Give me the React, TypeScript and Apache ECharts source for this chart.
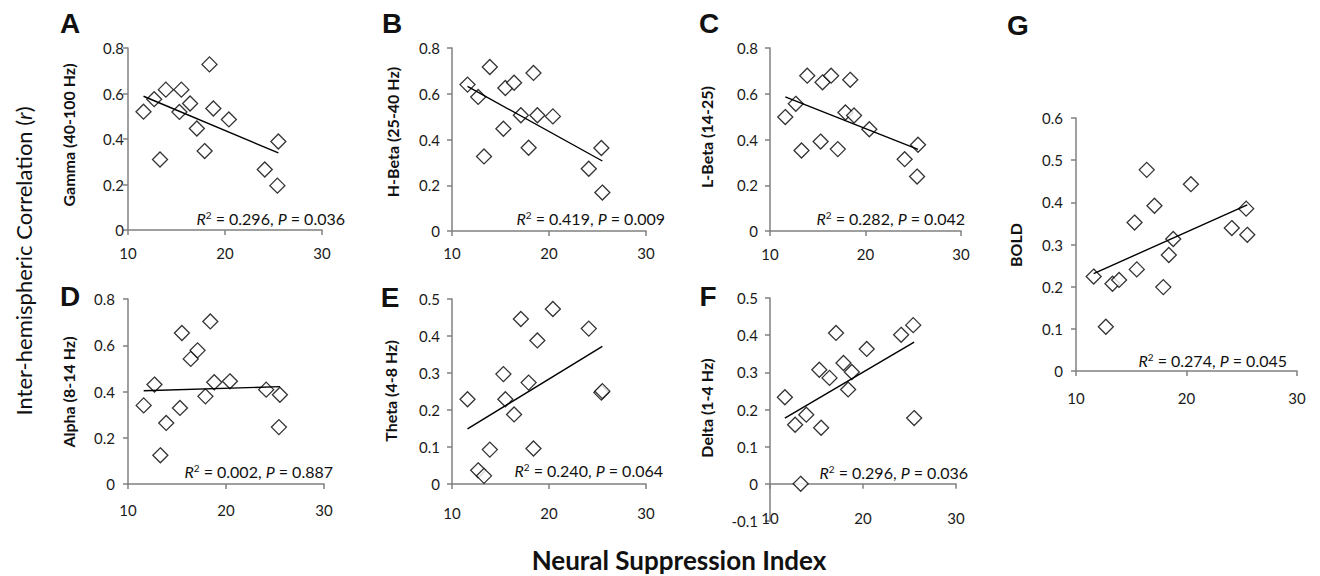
import React, { useEffect, useRef } from "react";
import * as echarts from "echarts";

// Neural suppression index (shared x for all panels)
const suppressionIndex = [11.6, 12.7, 13.3, 13.9, 15.3, 15.5, 16.4, 17.1, 17.9, 18.4, 18.8, 20.4, 24.1, 25.4, 25.5];

// Inter-hemispheric correlation per band
const gamma = [0.52, 0.575, 0.31, 0.617, 0.519, 0.617, 0.556, 0.446, 0.347, 0.728, 0.534, 0.486, 0.266, 0.195, 0.389];
const hBeta = [0.64, 0.586, 0.326, 0.717, 0.447, 0.625, 0.648, 0.506, 0.364, 0.691, 0.506, 0.501, 0.272, 0.363, 0.168];
const lBeta = [0.498, 0.556, 0.352, 0.679, 0.391, 0.65, 0.679, 0.358, 0.518, 0.661, 0.505, 0.445, 0.314, 0.238, 0.377];
const alpha = [0.34, 0.43, 0.124, 0.264, 0.329, 0.653, 0.541, 0.578, 0.379, 0.703, 0.44, 0.444, 0.408, 0.246, 0.386];
const theta = [0.229, 0.037, 0.022, 0.093, 0.297, 0.229, 0.188, 0.446, 0.274, 0.096, 0.388, 0.473, 0.42, 0.247, 0.251];
const delta = [0.233, 0.159, 0.0, 0.186, 0.307, 0.151, 0.285, 0.406, 0.325, 0.254, 0.301, 0.363, 0.401, 0.427, 0.177];
const boldSignal = [0.224, 0.105, 0.207, 0.216, 0.352, 0.241, 0.477, 0.392, 0.199, 0.275, 0.313, 0.443, 0.339, 0.385, 0.323];

// Regression line end points (x from trendX, y)
const trendX = [11.6, 25.5];
const gammaTrend = [0.588, 0.339];
const hBetaTrend = [0.632, 0.306];
const lBetaTrend = [0.586, 0.357];
const alphaTrend = [0.403, 0.421];
const thetaTrend = [0.149, 0.372];
const deltaTrend = [0.177, 0.381];
const boldTrend = [0.231, 0.394];

const panelLetters = ["A", "B", "C", "D", "E", "F", "G"];
const panelNames = ["Gamma (40-100 Hz)", "H-Beta (25-40 Hz)", "L-Beta (14-25)", "Alpha (8-14 Hz)", "Theta (4-8 Hz)", "Delta (1-4 Hz)", "BOLD"];
const rSquared = ["0.296", "0.419", "0.282", "0.002", "0.240", "0.296", "0.274"];
const pValues = ["0.036", "0.009", "0.042", "0.887", "0.064", "0.036", "0.045"];
const xTicks = { min: 10, max: 30, interval: 10 };
const yRanges = [
  { min: 0, max: 0.8, interval: 0.2 },
  { min: 0, max: 0.8, interval: 0.2 },
  { min: 0, max: 0.8, interval: 0.2 },
  { min: 0, max: 0.8, interval: 0.2 },
  { min: 0, max: 0.5, interval: 0.1 },
  { min: -0.1, max: 0.5, interval: 0.1 },
  { min: 0, max: 0.6, interval: 0.1 },
];

const seriesValues = [gamma, hBeta, lBeta, alpha, theta, delta, boldSignal];
const trends = [gammaTrend, hBetaTrend, lBetaTrend, alphaTrend, thetaTrend, deltaTrend, boldTrend];

// Layout (pixels); xo = x-axis offset from grid bottom (F: axis sits on y = 0)
const layout = [
  { grid: { left: 128, top: 48, width: 194, height: 182 }, xm: 15, xo: 0, ym: 4, title: [68, 135], letter: [70, 23], stat: [345, 218] },
  { grid: { left: 452, top: 48, width: 194, height: 183 }, xm: 14, xo: 0, ym: 12, title: [392, 132], letter: [392, 23], stat: [665, 218] },
  { grid: { left: 770, top: 48, width: 191, height: 183 }, xm: 15, xo: 0, ym: 12, title: [706, 137], letter: [709, 23], stat: [965, 218] },
  { grid: { left: 128, top: 299, width: 196, height: 185 }, xm: 18, xo: 0, ym: 13, title: [68, 392], letter: [70, 296], stat: [333, 471] },
  { grid: { left: 452, top: 299, width: 194, height: 185 }, xm: 21, xo: 0, ym: 12, title: [390, 391], letter: [390, 297], stat: [663, 470] },
  { grid: { left: 770, top: 298, width: 186, height: 223 }, xm: 27, xo: -223 / 6, ym: 12, title: [706, 408], letter: [708, 296], stat: [968, 472] },
  { grid: { left: 1076, top: 118, width: 221, height: 253 }, xm: 19, xo: 0, ym: 13, title: [1015, 245], letter: [1018, 25], stat: [1287, 360] },
];

const FONT = "Lato, 'Open Sans', sans-serif";
const AXIS_COLOR = "#808080";
const TEXT_COLOR = "#1a1a1a";

export default function App() {
  const ref = useRef<HTMLDivElement>(null);

  useEffect(() => {
    if (!ref.current) return;
    const chart = echarts.init(ref.current, undefined, { renderer: "svg" });

    const grids = layout.map((l) => ({ ...l.grid, containLabel: false }));
    const xAxes = layout.map((l, i) => ({
      type: "value",
      gridIndex: i,
      position: "bottom",
      offset: l.xo,
      min: xTicks.min,
      max: xTicks.max,
      interval: xTicks.interval,
      axisLine: { show: true, onZero: false, lineStyle: { color: AXIS_COLOR, width: 1.5 } },
      axisTick: { show: true, length: 5, lineStyle: { color: AXIS_COLOR, width: 1.5 } },
      axisLabel: { margin: l.xm, fontSize: 15, fontFamily: FONT, color: TEXT_COLOR },
      splitLine: { show: false },
    }));
    const yAxes = layout.map((l, i) => ({
      type: "value",
      gridIndex: i,
      min: yRanges[i].min,
      max: yRanges[i].max,
      interval: yRanges[i].interval,
      axisLine: { show: true, onZero: false, lineStyle: { color: AXIS_COLOR, width: 1.5 } },
      axisTick: { show: true, length: 5, lineStyle: { color: AXIS_COLOR, width: 1.5 } },
      axisLabel: { margin: l.ym, fontSize: 15, fontFamily: FONT, color: TEXT_COLOR },
      splitLine: { show: false },
    }));

    const series: any[] = [];
    seriesValues.forEach((vals, i) => {
      series.push({
        type: "scatter",
        xAxisIndex: i,
        yAxisIndex: i,
        symbol: "diamond",
        symbolSize: 15,
        itemStyle: { color: "#ffffff", borderColor: "#000000", borderWidth: 1.3 },
        data: vals.map((v, k) => [suppressionIndex[k], v]),
        z: 2,
      });
      series.push({
        type: "line",
        xAxisIndex: i,
        yAxisIndex: i,
        showSymbol: false,
        symbol: "none",
        lineStyle: { color: "#000000", width: 1.4 },
        data: trendX.map((x, k) => [x, trends[i][k]]),
        z: 3,
      });
    });

    const graphic: any[] = [];
    layout.forEach((l, i) => {
      graphic.push({
        type: "text",
        x: l.letter[0],
        y: l.letter[1],
        style: {
          text: panelLetters[i],
          font: "bold 28px 'Liberation Sans', Arial, sans-serif",
          fill: "#111",
          align: "center",
          verticalAlign: "middle",
        },
      });
      graphic.push({
        type: "text",
        x: l.title[0],
        y: l.title[1],
        rotation: Math.PI / 2,
        style: {
          text: panelNames[i],
          font: `bold 16px ${FONT}`,
          fill: "#111",
          align: "center",
          verticalAlign: "middle",
        },
      });
      graphic.push({
        type: "text",
        x: l.stat[0],
        y: l.stat[1],
        style: {
          text: `{i|R}{s|2} = ${rSquared[i]}, {i|P} = ${pValues[i]}`,
          font: `16px ${FONT}`,
          fill: "#111",
          align: "right",
          verticalAlign: "middle",
          rich: {
            i: { fontStyle: "italic", fontSize: 16, fontFamily: FONT, fill: "#111" },
            s: { fontSize: 10, fontFamily: FONT, fill: "#111", verticalAlign: "top", padding: [0, 0, 6, 0] },
          },
        },
      });
    });
    graphic.push({
      type: "text",
      x: 23,
      y: 261,
      rotation: Math.PI / 2,
      style: {
        text: "Inter-hemispheric Correlation ({i|r})",
        font: `22px ${FONT}`,
        fill: "#111",
        align: "center",
        verticalAlign: "middle",
        rich: { i: { fontStyle: "italic", fontSize: 22, fontFamily: FONT, fill: "#111" } },
      },
    });
    graphic.push({
      type: "text",
      x: 679,
      y: 560,
      style: {
        text: "Neural Suppression Index",
        font: `bold 26px ${FONT}`,
        fill: "#111",
        align: "center",
        verticalAlign: "middle",
      },
    });

    chart.setOption({
      animation: false,
      backgroundColor: "#ffffff",
      grid: grids,
      xAxis: xAxes,
      yAxis: yAxes,
      series,
      graphic,
    });

    return () => chart.dispose();
  }, []);

  return (
    <div
      ref={ref}
      style={{ position: "absolute", left: 0, top: 0, width: 1320, height: 576, background: "#fff" }}
    />
  );
}
